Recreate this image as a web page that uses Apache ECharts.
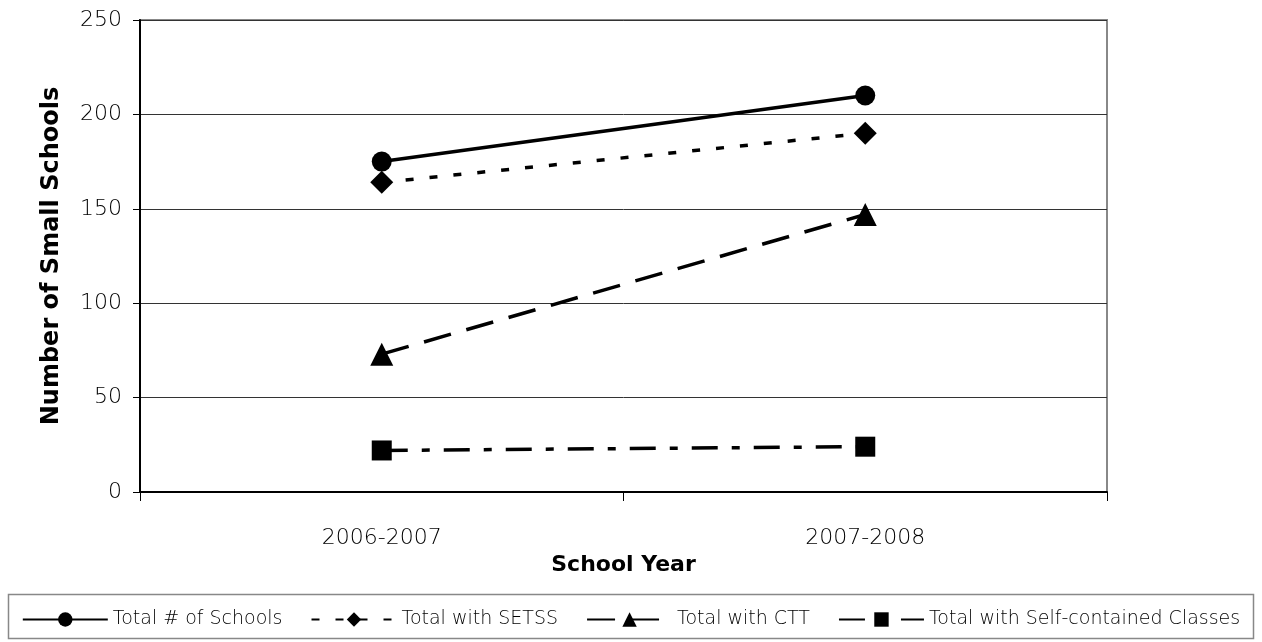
<!DOCTYPE html>
<html>
<head>
<meta charset="UTF-8">
<title>Small Schools</title>
<script src="https://cdn.jsdelivr.net/npm/echarts@6/dist/echarts.min.js"></script>
<style>
  html, body { margin: 0; padding: 0; background: #fff; }
  #chart { width: 1262px; height: 642px; }
</style>
</head>
<body>
<div id="chart"></div>
<script>
// data
const years = ['2006-2007', '2007-2008'];
const totalSchools = [175, 210];
const withSetss = [164, 190];
const withCtt = [73, 147];
const withSelfContained = [22, 24];
const yTicks = [0, 50, 100, 150, 200, 250];

const font = '"DejaVu Sans", sans-serif';

const chart = echarts.init(document.getElementById('chart'));

function line(name, data, symbol, size, dash) {
    return {
        name: name,
        type: 'line',
        data: data,
        symbol: symbol,
        symbolSize: size,
        showSymbol: true,
        lineStyle: { color: '#000', width: 3.5, type: dash },
        itemStyle: { color: '#000' },
        emphasis: { disabled: true }
    };
}

chart.setOption({
    animation: false,
    textStyle: { fontFamily: font, color: '#000' },
    grid: { left: 140, top: 20, width: 967, height: 472, show: true, borderColor: '#888', borderWidth: 2 },
    xAxis: {
        type: 'category',
        data: years,
        boundaryGap: true,
        name: 'School Year',
        nameLocation: 'middle',
        nameGap: 59,
        nameTextStyle: { fontSize: 22, fontWeight: 'bold', fontFamily: font },
        axisLine: { lineStyle: { color: '#000', width: 2 } },
        axisTick: { show: true, length: 9, lineStyle: { color: '#000' } },
        axisLabel: { fontSize: 22, color: '#000', margin: 35, fontWeight: 200 }
    },
    yAxis: {
        type: 'value',
        min: yTicks[0],
        max: yTicks[yTicks.length - 1],
        interval: 50,
        name: 'Number of Small Schools',
        nameLocation: 'middle',
        nameGap: 76,
        nameTextStyle: { fontSize: 24, fontWeight: 'bold', fontFamily: font },
        axisLine: { show: true, lineStyle: { color: '#000', width: 2 } },
        axisTick: { show: true, length: 7, lineStyle: { color: '#000' } },
        axisLabel: { fontSize: 22, color: '#000', margin: 18, fontWeight: 200 },
        splitLine: { lineStyle: { color: '#333', width: 1 } }
    },
    legend: {
        top: 605,
        left: 'center',
        itemWidth: 85,
        itemHeight: 18,
        itemGap: 28,
        textStyle: { fontSize: 19, color: '#000', fontFamily: font, fontWeight: 200 },
        data: ['Total # of Schools', 'Total with SETSS', 'Total with CTT', 'Total with Self-contained Classes']
    },
    graphic: [{
        type: 'rect',
        shape: { x: 8.5, y: 594.5, width: 1245, height: 44 },
        style: { fill: 'none', stroke: '#888', lineWidth: 1.5 },
        silent: true
    }],
    series: [
        line('Total # of Schools', totalSchools, 'circle', 20, 'solid'),
        line('Total with SETSS', withSetss, 'diamond', 23, [8, 16]),
        line('Total with CTT', withCtt, 'triangle', 23, [28, 16]),
        line('Total with Self-contained Classes', withSelfContained, 'rect', 20, [26, 14, 8, 14])
    ]
});
</script>
</body>
</html>
